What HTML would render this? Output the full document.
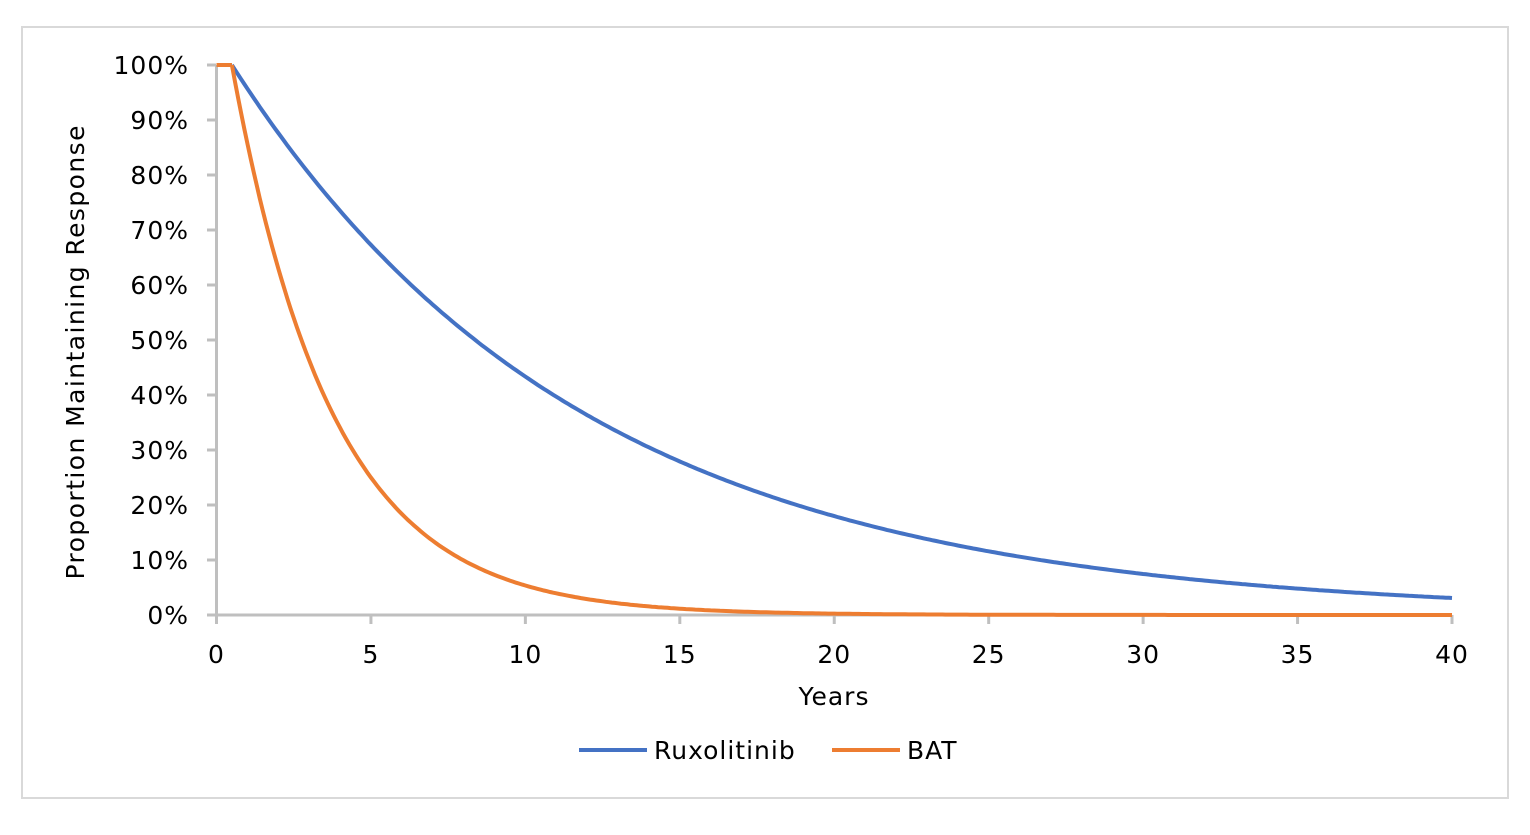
<!DOCTYPE html>
<html><head><style>
body{margin:0;background:#fff;}
svg text{font-family:"DejaVu Sans","Liberation Sans",sans-serif;fill:#000;letter-spacing:1px;}
</style></head><body>
<svg id="s" width="1530" height="830" xmlns="http://www.w3.org/2000/svg">
<rect x="22" y="27" width="1486" height="771" fill="#fff" stroke="#d9d9d9" stroke-width="2"/>
<g stroke="#bfbfbf" stroke-width="3" fill="none">
<line x1="216.5" y1="65" x2="216.5" y2="624"/>
<line x1="207" y1="615" x2="1452" y2="615"/>
<g id="yt"></g><g id="xt"></g>
</g>
<g id="lab" font-size="25"></g>
<path id="rux" fill="none" stroke="#4472c4" stroke-width="4"/>
<path id="bat" fill="none" stroke="#ed7d31" stroke-width="4"/>
<text x="834" y="705" font-size="25" text-anchor="middle">Years</text>
<text transform="translate(84,352) rotate(-90)" font-size="25" text-anchor="middle" textLength="455">Proportion Maintaining Response</text>
<line x1="579" y1="750" x2="647" y2="750" stroke="#4472c4" stroke-width="4"/>
<text x="654" y="759" font-size="25">Ruxolitinib</text>
<line x1="832" y1="750" x2="900" y2="750" stroke="#ed7d31" stroke-width="4"/>
<text x="907" y="759" font-size="25">BAT</text>
</svg>
<script>
var X=t=>216.5+t*(1452-216.5)/40, Y=p=>615-p*550;
var yt='',xt='',lab='';
for(var i=0;i<=10;i++){var y=Y(i/10);yt+='<line x1="207" y1="'+y+'" x2="216" y2="'+y+'"/>';lab+='<text x="189" y="'+(y+9)+'" text-anchor="end">'+(i*10)+'%</text>';}
for(var j=0;j<=8;j++){var x=X(j*5);xt+='<line x1="'+x+'" y1="615" x2="'+x+'" y2="624"/>';lab+='<text x="'+x+'" y="663" text-anchor="middle">'+(j*5)+'</text>';}
document.getElementById('yt').innerHTML=yt;document.getElementById('xt').innerHTML=xt;document.getElementById('lab').innerHTML=lab;
function mk(k){var d='M'+X(0)+' '+Y(1)+' L'+X(0.5)+' '+Y(1);for(var t=0.5;t<=40.001;t+=0.1){d+=' L'+X(t).toFixed(1)+' '+Y(Math.exp(-k*(t-0.5))).toFixed(1);}return d;}
document.getElementById('rux').setAttribute('d',mk(0.088));
document.getElementById('bat').setAttribute('d',mk(0.308));
</script>
</body></html>
